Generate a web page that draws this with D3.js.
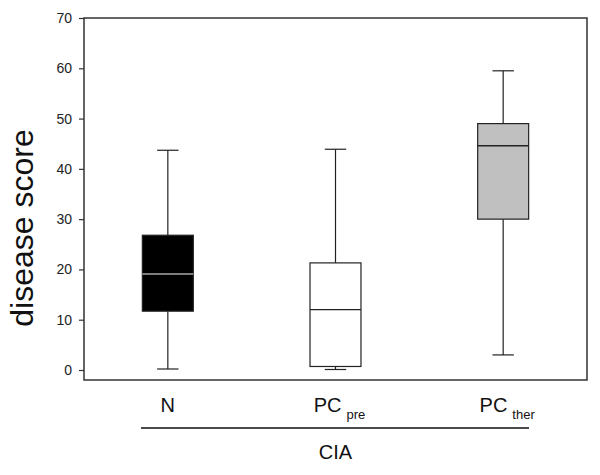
<!DOCTYPE html>
<html>
<head>
<meta charset="utf-8">
<script src="https://cdn.jsdelivr.net/npm/d3@7"></script>
<style>
  html, body { margin: 0; padding: 0; background: #fff; }
  svg { display: block; font-family: "Liberation Sans", Arial, sans-serif; }
</style>
</head>
<body>
<svg id="chart" width="600" height="475"></svg>
<script>
// ---- data ----
const categories = ["N", "PCpre", "PCther"];
const labelMain = ["N", "PC", "PC"];
const labelSub = ["", "pre", "ther"];
const whiskerMin = [0.2, 0.1, 3.0];
const q1Values = [11.7, 0.7, 30.0];
const medianValues = [19.1, 12.0, 44.6];
const q3Values = [26.8, 21.3, 49.0];
const whiskerMax = [43.7, 43.9, 59.5];
const boxFills = ["#000000", "#ffffff", "#c0c0c0"];
const medianColors = ["#a8a8a8", "#222222", "#222222"];
const yTicks = [0, 10, 20, 30, 40, 50, 60, 70];
const groupLabel = "CIA";
const yLabel = "disease score";

const rows = categories.map((c, i) => ({
  cat: c, min: whiskerMin[i], q1: q1Values[i], med: medianValues[i],
  q3: q3Values[i], max: whiskerMax[i], fill: boxFills[i], medColor: medianColors[i],
  main: labelMain[i], sub: labelSub[i]
}));

const svg = d3.select("#chart");
const mLeft = 84, mRight = 587, mTop = 18, mBottom = 380;

const x = d3.scaleBand().domain(categories).range([mLeft, mRight])
  .paddingInner(0.696).paddingOuter(0.348);
const y = d3.scaleLinear().domain([0, 70]).range([370, 18]);

// frame
svg.append("rect")
  .attr("x", mLeft).attr("y", mTop)
  .attr("width", mRight - mLeft).attr("height", mBottom - mTop)
  .attr("fill", "none").attr("stroke", "#333").attr("stroke-width", 1.5);

// y axis
const yAxis = d3.axisLeft(y).tickValues(yTicks).tickSize(5).tickPadding(7);
const gy = svg.append("g").attr("transform", `translate(${mLeft},0)`).call(yAxis);
gy.select(".domain").remove();
gy.selectAll(".tick line").attr("stroke", "#333").attr("stroke-width", 1.2);
gy.selectAll(".tick text").attr("font-size", 14).attr("fill", "#222")
  .attr("font-family", "'Liberation Sans', Arial, sans-serif");

// boxes
const g = svg.append("g");
const bw = x.bandwidth();
const capW = bw * 0.42;
rows.forEach(d => {
  const cx = x(d.cat) + bw / 2;
  g.append("line").attr("x1", cx).attr("x2", cx).attr("y1", y(d.q3)).attr("y2", y(d.max))
    .attr("stroke", "#222").attr("stroke-width", 1.2);
  g.append("line").attr("x1", cx).attr("x2", cx).attr("y1", y(d.q1)).attr("y2", y(d.min))
    .attr("stroke", "#222").attr("stroke-width", 1.2);
  g.append("line").attr("x1", cx - capW / 2).attr("x2", cx + capW / 2)
    .attr("y1", y(d.max)).attr("y2", y(d.max)).attr("stroke", "#222").attr("stroke-width", 1.2);
  g.append("line").attr("x1", cx - capW / 2).attr("x2", cx + capW / 2)
    .attr("y1", y(d.min)).attr("y2", y(d.min)).attr("stroke", "#222").attr("stroke-width", 1.2);
  g.append("rect").attr("x", x(d.cat)).attr("width", bw)
    .attr("y", y(d.q3)).attr("height", y(d.q1) - y(d.q3))
    .attr("fill", d.fill).attr("stroke", "#222").attr("stroke-width", 1.2);
  g.append("line").attr("x1", x(d.cat)).attr("x2", x(d.cat) + bw)
    .attr("y1", y(d.med)).attr("y2", y(d.med))
    .attr("stroke", d.medColor).attr("stroke-width", 1.4);
});

// x labels
rows.forEach(d => {
  const cx = x(d.cat) + bw / 2;
  const t = svg.append("text")
    .attr("x", d.sub ? cx + 4 : cx).attr("y", 412)
    .attr("text-anchor", "middle").attr("fill", "#111");
  t.append("tspan").attr("font-size", 20).text(d.main);
  if (d.sub) {
    t.append("tspan").attr("font-size", 13).attr("dx", 5).attr("dy", 7).text(d.sub);
  }
});

// group line and label
svg.append("line").attr("x1", 141).attr("x2", 529).attr("y1", 428).attr("y2", 428)
  .attr("stroke", "#111").attr("stroke-width", 1.6);
svg.append("text").attr("x", x("PCpre") + bw / 2).attr("y", 459)
  .attr("text-anchor", "middle").attr("font-size", 20).attr("fill", "#111")
  .text(groupLabel);

// y label
svg.append("text")
  .attr("transform", "translate(33,228) rotate(-90)")
  .attr("text-anchor", "middle").attr("font-size", 32).attr("fill", "#111")
  .text(yLabel);
</script>
</body>
</html>
